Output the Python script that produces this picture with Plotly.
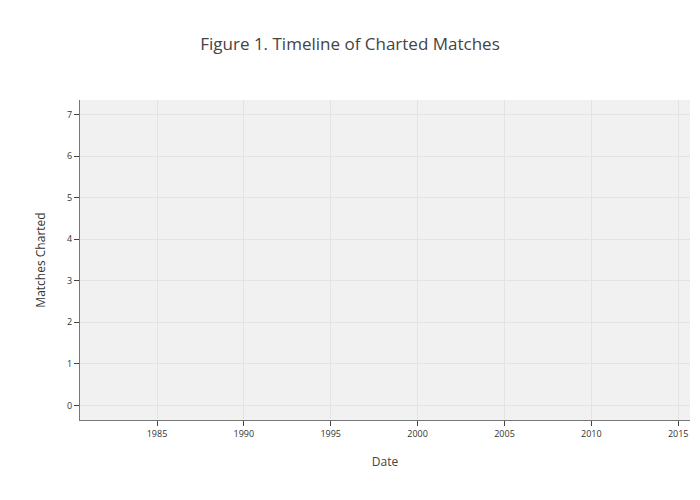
import plotly.graph_objects as go

# Data: the reference chart shows no plotted marks
dates = []
matches_charted = []

x_range = ["1980-07-27", "2015-09-06"]
y_range = [-0.35, 7.35]

fig = go.Figure()
fig.add_trace(go.Scatter(x=dates, y=matches_charted, mode="markers", showlegend=False))

fig.update_layout(
    width=700, height=500,
    title=dict(text="Figure 1. Timeline of Charted Matches", x=0.5, xanchor="center",
               y=0.912, yanchor="middle", font=dict(family="Open Sans", size=17, color="#444")),
    font=dict(family="Open Sans", color="#444"),
    paper_bgcolor="white",
    plot_bgcolor="#f1f1f1",
    margin=dict(l=80, r=10, t=100, b=80),
    xaxis=dict(
        type="date", range=x_range,
        title=dict(text="Date", font=dict(size=12), standoff=18),
        tickfont=dict(size=9, color="#333"),
        ticks="outside", ticklen=5, tickcolor="#444",
        showline=True, linecolor="#777", linewidth=1,
        showgrid=True, gridcolor="#e3e3e3", zeroline=False,
        dtick="M60", tick0="1985-01-01", tickformat="%Y",
    ),
    yaxis=dict(
        range=y_range,
        title=dict(text="Matches Charted", font=dict(size=12, color="#333"), standoff=18),
        tickfont=dict(size=9, color="#333"),
        ticks="outside", ticklen=5, tickcolor="#444",
        showline=True, linecolor="#777", linewidth=1,
        showgrid=True, gridcolor="#e3e3e3", zeroline=False,
        dtick=1, tick0=0,
    ),
)

fig.write_html("out.html", config={"displayModeBar": False},
               post_script="document.body.style.margin='0';")
